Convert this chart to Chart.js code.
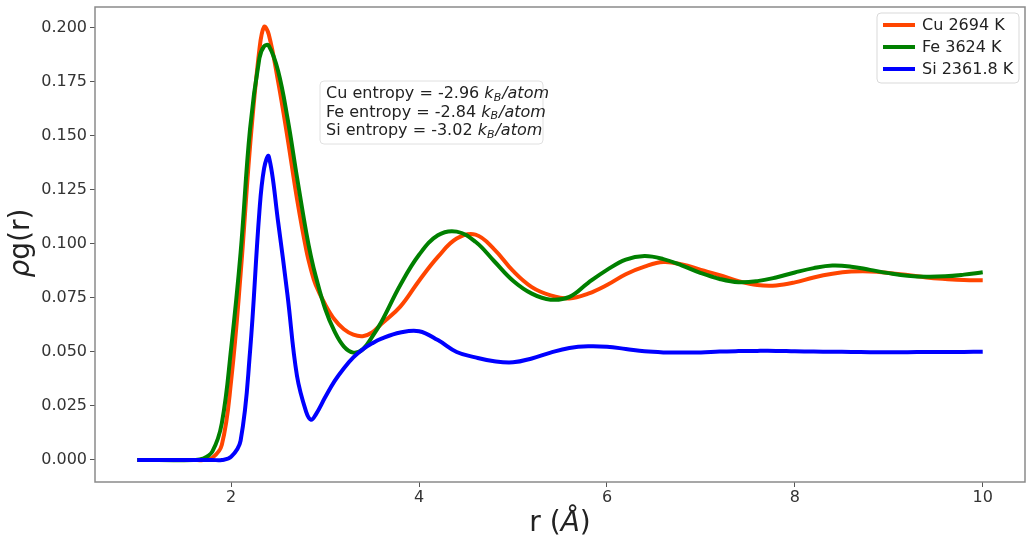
<!DOCTYPE html>
<html>
<head>
<meta charset="utf-8">
<script src="https://cdn.jsdelivr.net/npm/chart.js@4.4.0/dist/chart.umd.min.js"></script>
<style>
  body { margin: 0; background: #fff; }
  #wrap { width: 1026px; height: 542px; }
</style>
</head>
<body>
<div id="wrap"><canvas id="rdfChart" width="1026" height="542"></canvas></div>
<script>
// Radial distribution data, r in angstrom
const rValues = [
  1.0, 1.6, 1.7, 1.8, 1.9, 2.0, 2.1, 2.2, 2.3, 2.35, 2.4, 2.5, 2.6, 2.7, 2.8, 2.85, 2.9,
  3.0, 3.1, 3.2, 3.3, 3.4, 3.5, 3.6, 3.8, 4.0, 4.2, 4.4, 4.6, 4.8, 5.0, 5.2, 5.4,
  5.6, 5.8, 6.0, 6.2, 6.4, 6.6, 6.8, 7.0, 7.2, 7.4, 7.6, 7.8, 8.0, 8.2, 8.4, 8.6,
  8.8, 9.0, 9.2, 9.4, 9.6, 9.8, 10.0
];
const cuValues = [
  0, 0, 0, 0.001, 0.007, 0.037, 0.086, 0.145, 0.190, 0.2005, 0.197, 0.175, 0.149, 0.121, 0.097, 0.088, 0.081,
  0.072, 0.065, 0.0605, 0.058, 0.0573, 0.059, 0.063, 0.071, 0.083, 0.094, 0.1025, 0.1043, 0.0975, 0.0875, 0.080, 0.0762,
  0.0748, 0.077, 0.081, 0.086, 0.0895, 0.0916, 0.0905, 0.0880, 0.0855, 0.0828, 0.0810, 0.0808, 0.0822, 0.0845, 0.0862, 0.0872,
  0.0873, 0.0866, 0.0856, 0.0845, 0.0838, 0.0833, 0.0832
];
const feValues = [
  0, 0, 0.0006, 0.004, 0.017, 0.052, 0.096, 0.153, 0.186, 0.1915, 0.1918, 0.180, 0.158, 0.131, 0.105, 0.094, 0.085,
  0.070, 0.0595, 0.0525, 0.0497, 0.0512, 0.057, 0.064, 0.081, 0.095, 0.104, 0.1057, 0.101, 0.092, 0.083, 0.077, 0.0742,
  0.0755, 0.082, 0.088, 0.0928, 0.0944, 0.0930, 0.0900, 0.0865, 0.0838, 0.0823, 0.0828, 0.0845, 0.0868, 0.0888, 0.0900, 0.0895,
  0.0880, 0.0865, 0.0853, 0.0848, 0.0850, 0.0858, 0.0869
];
const siValues = [
  0, 0, 0, 0, 0, 0.0015, 0.009, 0.050, 0.115, 0.135, 0.1405, 0.110, 0.076, 0.039, 0.022, 0.0186, 0.021,
  0.029, 0.0365, 0.0425, 0.0475, 0.0512, 0.0540, 0.0562, 0.0590, 0.0596, 0.0555, 0.0500, 0.0475, 0.0457, 0.0452, 0.0470, 0.0497,
  0.0518, 0.0526, 0.0524, 0.0514, 0.0503, 0.0498, 0.0497, 0.0498, 0.0502, 0.0504, 0.0505, 0.0505, 0.0503, 0.0502, 0.0501, 0.0500,
  0.0499, 0.0499, 0.0499, 0.0500, 0.0500, 0.0500, 0.0501
];

const seriesLabels = ["Cu 2694 K", "Fe 3624 K", "Si 2361.8 K"];
const seriesColors = ["#ff4500", "#008000", "#0000ff"];
const entropyNames = ["Cu", "Fe", "Si"];
const entropyValues = [-2.96, -2.84, -3.02];

const xTicks = [2, 4, 6, 8, 10];
const yTicks = [0, 0.025, 0.05, 0.075, 0.1, 0.125, 0.15, 0.175, 0.2];

const FONT = '"DejaVu Sans", sans-serif';

function toPoints(values) {
  return rValues.map((r, i) => ({ x: r, y: values[i] }));
}

// draws text made of [string, style] pieces starting at x
function drawPieces(ctx, parts, size, x, y) {
  parts.forEach(([t, s]) => {
    ctx.font = s + " " + size + "px " + FONT;
    ctx.fillText(t, x, y);
    x += ctx.measureText(t).width;
  });
}

function piecesWidth(ctx, parts, size) {
  let w = 0;
  parts.forEach(([t, s]) => {
    ctx.font = s + " " + size + "px " + FONT;
    w += ctx.measureText(t).width;
  });
  return w;
}

// frame, axis titles, legend and entropy box
const decorations = {
  id: "decorations",
  afterDraw(chart) {
    const { ctx, chartArea: a } = chart;
    ctx.save();

    // box around the plot
    ctx.strokeStyle = "#8a8a8a";
    ctx.lineWidth = 1.5;
    ctx.strokeRect(a.left, a.top, a.right - a.left, a.bottom - a.top);

    ctx.fillStyle = "#222";
    ctx.textBaseline = "alphabetic";

    // x title: r (Å)
    const xParts = [["r (", "normal"], ["Å", "italic"], [")", "normal"]];
    const xw = piecesWidth(ctx, xParts, 28);
    drawPieces(ctx, xParts, 28, (a.left + a.right) / 2 - xw / 2, 531);

    // y title: ρg(r)
    ctx.save();
    ctx.translate(29, 243);
    ctx.rotate(-Math.PI / 2);
    const yParts = [["ρ", "italic"], ["g(r)", "normal"]];
    const yw = piecesWidth(ctx, yParts, 28);
    drawPieces(ctx, yParts, 28, -yw / 2, 0);
    ctx.restore();

    // legend
    roundRect(ctx, 877, 13, 142, 70, 4);
    ctx.fillStyle = "rgba(255,255,255,0.85)";
    ctx.fill();
    ctx.strokeStyle = "#d9d9d9";
    ctx.lineWidth = 1;
    ctx.stroke();
    ctx.font = "16px " + FONT;
    ctx.textBaseline = "middle";
    chart.data.datasets.forEach((ds, i) => {
      const yy = 25 + i * 22;
      ctx.strokeStyle = ds.borderColor;
      ctx.lineWidth = 4;
      ctx.beginPath();
      ctx.moveTo(883, yy);
      ctx.lineTo(915, yy);
      ctx.stroke();
      ctx.fillStyle = "#222";
      ctx.fillText(ds.label, 922, yy + 1);
    });

    // entropy text box
    roundRect(ctx, 320, 81, 223, 63, 4);
    ctx.fillStyle = "rgba(255,255,255,0.85)";
    ctx.fill();
    ctx.strokeStyle = "#e0e0e0";
    ctx.lineWidth = 1;
    ctx.stroke();
    ctx.fillStyle = "#222";
    entropyNames.forEach((name, i) => {
      const yy = 94 + i * 18.5;
      let tx = 326;
      ctx.font = "16px " + FONT;
      const head = name + " entropy = " + entropyValues[i].toFixed(2) + " ";
      ctx.fillText(head, tx, yy);
      tx += ctx.measureText(head).width;
      ctx.font = "italic 16px " + FONT;
      ctx.fillText("k", tx, yy);
      tx += ctx.measureText("k").width;
      ctx.font = "italic 11px " + FONT;
      ctx.fillText("B", tx, yy + 4);
      tx += ctx.measureText("B").width + 1;
      ctx.font = "italic 16px " + FONT;
      ctx.fillText("/atom", tx, yy);
    });

    ctx.restore();
  },
};

function roundRect(ctx, x, y, w, h, r) {
  ctx.beginPath();
  ctx.moveTo(x + r, y);
  ctx.lineTo(x + w - r, y);
  ctx.quadraticCurveTo(x + w, y, x + w, y + r);
  ctx.lineTo(x + w, y + h - r);
  ctx.quadraticCurveTo(x + w, y + h, x + w - r, y + h);
  ctx.lineTo(x + r, y + h);
  ctx.quadraticCurveTo(x, y + h, x, y + h - r);
  ctx.lineTo(x, y + r);
  ctx.quadraticCurveTo(x, y, x + r, y);
  ctx.closePath();
}

const ctx = document.getElementById("rdfChart");

new Chart(ctx, {
  type: "line",
  data: {
    datasets: [
      { label: seriesLabels[0], data: toPoints(cuValues), borderColor: seriesColors[0], order: 3 },
      { label: seriesLabels[1], data: toPoints(feValues), borderColor: seriesColors[1], order: 2 },
      { label: seriesLabels[2], data: toPoints(siValues), borderColor: seriesColors[2], order: 1 },
    ],
  },
  options: {
    responsive: false,
    animation: false,
    layout: { padding: { top: 7, right: 1, left: 0, bottom: 0 } },
    elements: {
      point: { radius: 0 },
      line: { borderWidth: 4, tension: 0.4, fill: false, capBezierPoints: true },
    },
    plugins: {
      legend: { display: false },
      tooltip: { enabled: false },
    },
    scales: {
      x: {
        type: "linear",
        min: 0.55,
        max: 10.45,
        afterBuildTicks: (s) => { s.ticks = xTicks.map((v) => ({ value: v })); },
        afterFit: (s) => { s.height = 60; s.paddingLeft = 0; s.paddingRight = 0; },
        grid: { drawOnChartArea: false, drawTicks: true, tickLength: 5, color: "#555" },
        border: { display: false },
        ticks: {
          color: "#333",
          font: { family: "DejaVu Sans", size: 16 },
          padding: 1,
          maxRotation: 0,
          callback: (v) => String(v),
        },
      },
      y: {
        min: -0.0102,
        max: 0.2097,
        afterBuildTicks: (s) => { s.ticks = yTicks.map((v) => ({ value: v })); },
        afterFit: (s) => { s.width = 95; s.paddingTop = 0; s.paddingBottom = 0; },
        grid: { drawOnChartArea: false, drawTicks: true, tickLength: 5, color: "#555" },
        border: { display: false },
        ticks: {
          color: "#333",
          font: { family: "DejaVu Sans", size: 16 },
          padding: 3,
          callback: (v) => v.toFixed(3),
        },
      },
    },
  },
  plugins: [decorations],
});
</script>
</body>
</html>
